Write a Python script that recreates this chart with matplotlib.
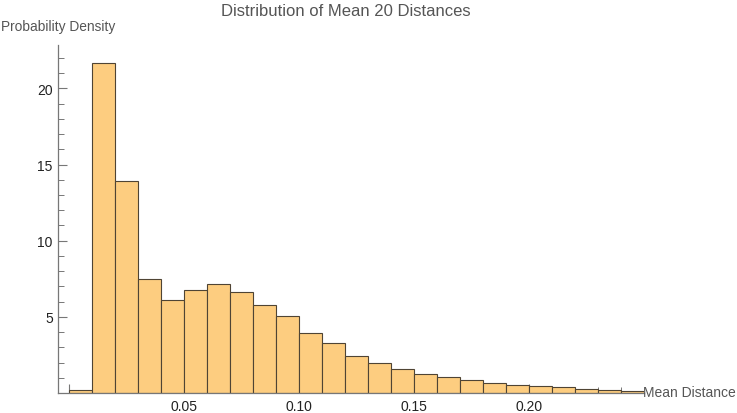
import matplotlib
matplotlib.use("Agg")
import matplotlib.pyplot as plt
from matplotlib.ticker import MultipleLocator, FixedLocator

# Data: histogram bins (width 0.01) and densities
bin_edges = [i / 100 for i in range(26)]
densities = [0.18, 21.67, 13.9, 7.46, 6.08, 6.74, 7.13, 6.61, 5.76, 5.03,
             3.92, 3.26, 2.45, 1.95, 1.56, 1.23, 1.03, 0.83, 0.63, 0.50,
             0.44, 0.37, 0.26, 0.18, 0.15]
xtick_vals = [0.05, 0.10, 0.15, 0.20]
xtick_labels = ["0.05", "0.10", "0.15", "0.20"]
ytick_vals = [5, 10, 15, 20]
ytick_labels = ["5", "10", "15", "20"]

plt.rcParams['font.family'] = ['Liberation Sans', 'DejaVu Sans']

fig = plt.figure(figsize=(7.37, 4.14), dpi=100)
ax = fig.add_axes([58.3 / 737, 20 / 414, (644 - 58.3) / 737, (394 - 46) / 414])

lefts = bin_edges[:-1]
widths = [bin_edges[i + 1] - bin_edges[i] for i in range(len(lefts))]
ax.bar(lefts, densities, width=widths, align='edge',
       color='#FDCD80', edgecolor='#4f4434', linewidth=0.8, zorder=2)

ax.set_xlim(-0.0048, 0.2499)
ax.set_ylim(0, 22.85)

for s in ['top', 'right']:
    ax.spines[s].set_visible(False)
for s in ['left', 'bottom']:
    ax.spines[s].set_color('#777777')
    ax.spines[s].set_linewidth(0.9)

ax.set_axisbelow(True)
ax.xaxis.set_major_locator(FixedLocator([0.0] + xtick_vals))
ax.set_xticklabels([""] + xtick_labels)
ax.xaxis.set_minor_locator(MultipleLocator(0.01))
ax.yaxis.set_major_locator(FixedLocator(ytick_vals))
ax.set_yticklabels(ytick_labels)
ax.yaxis.set_minor_locator(MultipleLocator(1))

ax.tick_params(axis='both', which='major', direction='in', length=6.5,
               width=0.8, color='#777777', labelsize=10, labelcolor='#222222')
ax.tick_params(axis='both', which='minor', direction='in', length=4,
               width=0.7, color='#777777')
ax.tick_params(axis='x', which='major', pad=4.5)
ax.tick_params(axis='y', which='major', pad=4)

fig.text(345.7 / 737, 1 - 11 / 414, "Distribution of Mean 20 Distances",
         ha='center', va='center', fontsize=12, color='#555555')
fig.text(1.5 / 737, 1 - 27 / 414, "Probability Density",
         ha='left', va='center', fontsize=9.9, color='#555555')
fig.text(643 / 737, 1 - 393 / 414, "Mean Distance",
         ha='left', va='center', fontsize=10, color='#555555')

fig.savefig("out.png", dpi=100)
